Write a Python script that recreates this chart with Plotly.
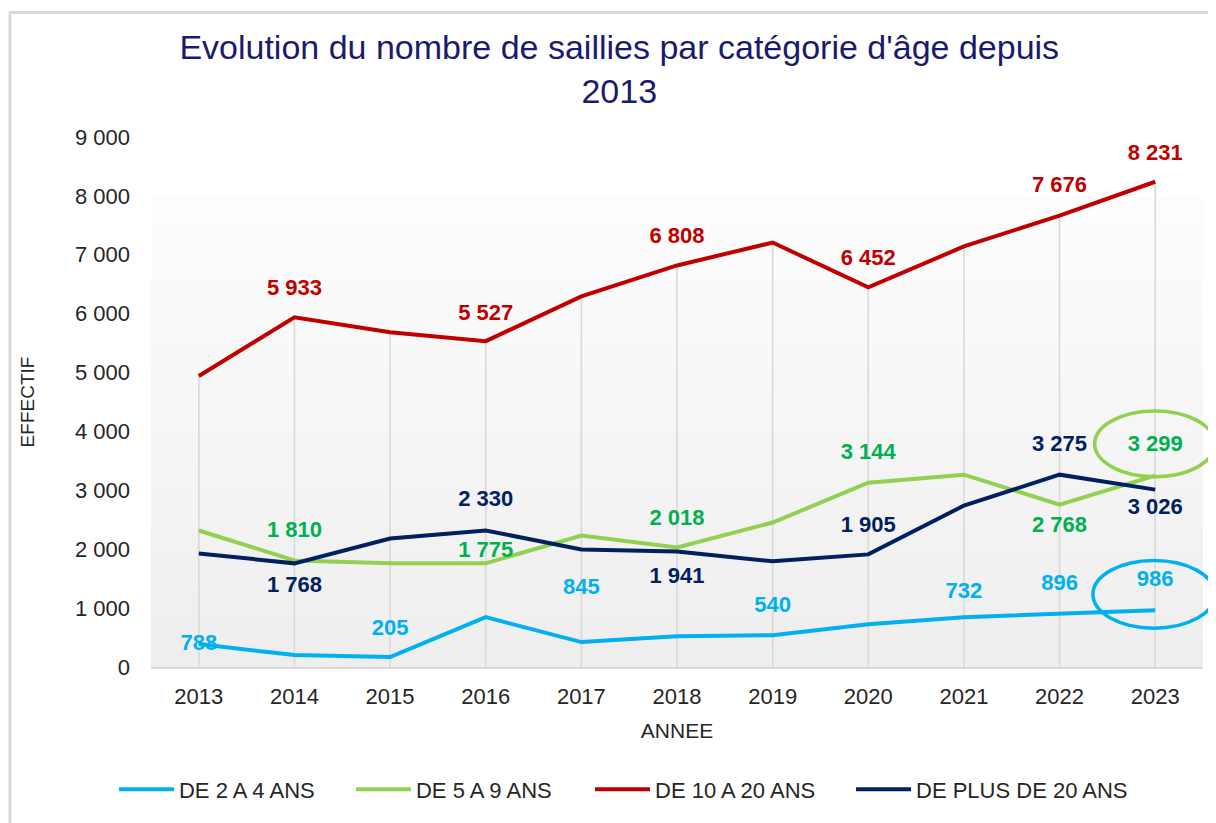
import plotly.graph_objects as go

# ---------------- data ----------------
years = [2013, 2014, 2015, 2016, 2017, 2018, 2019, 2020, 2021, 2022, 2023]

# line values
de_2_a_4 = [389, 203, 169, 846, 423, 524, 541, 727, 846, 897, 964]
de_5_a_9 = [2318, 1810, 1760, 1760, 2233, 2030, 2453, 3130, 3266, 2758, 3249]
de_10_a_20 = [4941, 5939, 5685, 5533, 6294, 6819, 7208, 6447, 7141, 7665, 8240]
de_plus_20 = [1929, 1760, 2183, 2318, 1997, 1960, 1794, 1912, 2741, 3266, 3012]

# data labels as printed on the chart (text, year, height)
lab_2_4_text = ["788", "205", "845", "540", "732", "896", "986"]
lab_2_4_x = [2013, 2015, 2017, 2019, 2021, 2022, 2023]
lab_2_4_y = [389, 643, 1337, 1032, 1269, 1404, 1472]

lab_5_9_text = ["1 810", "1 775", "2 018", "3 144", "2 768", "3 299"]
lab_5_9_x = [2014, 2016, 2018, 2020, 2022, 2023]
lab_5_9_y = [2301, 1963, 2504, 3621, 2386, 3756]

lab_10_20_text = ["5 933", "5 527", "6 808", "6 452", "7 676", "8 231"]
lab_10_20_x = [2014, 2016, 2018, 2020, 2022, 2023]
lab_10_20_y = [6413, 5990, 7293, 6920, 8156, 8697]

lab_p20_text = ["1 768", "2 330", "1 941", "1 905", "3 275", "3 026"]
lab_p20_x = [2014, 2016, 2018, 2020, 2022, 2023]
lab_p20_y = [1370, 2826, 1523, 2386, 3756, 2690]

series_names = ["DE 2 A 4 ANS", "DE 5 A 9 ANS", "DE 10 A 20 ANS", "DE PLUS DE 20 ANS"]
y_ticks = [0, 1000, 2000, 3000, 4000, 5000, 6000, 7000, 8000, 9000]

# ---------------- styles ----------------
FONT = "Liberation Sans, Arial, sans-serif"
line_colors = ["#00B0F0", "#92D050", "#C00000", "#002060"]
label_colors = ["#00B0F0", "#00B050", "#C00000", "#002060"]
legend_ids = ["legend", "legend2", "legend3", "legend4"]
legend_x = [-0.0352, 0.1901, 0.4173, 0.6654]

fig = go.Figure()

# drop lines from the highest series down to the axis
dx, dy = [], []
for x, v in zip(years, de_10_a_20):
    dx += [x, x, None]
    dy += [0, v, None]
fig.add_trace(go.Scatter(x=dx, y=dy, mode="lines", line=dict(color="#d9d9d9", width=1.6),
                         showlegend=False, hoverinfo="skip"))

all_series = [de_2_a_4, de_5_a_9, de_10_a_20, de_plus_20]
for name, vals, col, lg in zip(series_names, all_series, line_colors, legend_ids):
    fig.add_trace(go.Scatter(x=years, y=vals, mode="lines", name=name, legend=lg,
                             line=dict(color=col, width=4)))

labels = [
    (lab_2_4_text, lab_2_4_x, lab_2_4_y),
    (lab_5_9_text, lab_5_9_x, lab_5_9_y),
    (lab_10_20_text, lab_10_20_x, lab_10_20_y),
    (lab_p20_text, lab_p20_x, lab_p20_y),
]
for (txt, lx, ly), col in zip(labels, label_colors):
    fig.add_trace(go.Scatter(x=lx, y=ly, text=txt, mode="text", showlegend=False,
                             textposition="middle center", cliponaxis=False,
                             textfont=dict(family=FONT, size=22, color=col, weight="bold"),
                             hoverinfo="skip"))

# background gradient of the plot area
shapes = []
n_bands = 40
top = 0.885
c0, c1 = 0xEE, 0xFD
for i in range(n_bands):
    f = i / (n_bands - 1)
    c = int(round(c0 + (c1 - c0) * f))
    col = "#%02x%02x%02x" % (c, c, c)
    shapes.append(dict(type="rect", xref="x domain", yref="y domain",
                       x0=0, x1=1, y0=top * i / n_bands, y1=top * (i + 1) / n_bands + 0.002,
                       fillcolor=col, line=dict(width=0), layer="below"))
# highlight ellipses
shapes.append(dict(type="circle", xref="paper", yref="paper", x0=0.897, x1=1.0114,
                   y0=0.359, y1=0.483, line=dict(color="#92D050", width=3.5)))
shapes.append(dict(type="circle", xref="paper", yref="paper", x0=0.8954, x1=1.0114,
                   y0=0.0733, y1=0.201, line=dict(color="#00B0F0", width=3.5)))
# frame of the chart area (left and top edges)
shapes.append(dict(type="path", xref="paper", yref="paper",
                   path="M -0.134,-0.3 L -0.134,1.235 L 1.1,1.235",
                   line=dict(color="#d9d9d9", width=3)))

legend_common = dict(orientation="h", xanchor="left", y=-0.231, yanchor="middle",
                     itemwidth=55,
                     font=dict(family=FONT, size=22, color="#262626"),
                     bgcolor="rgba(0,0,0,0)")

fig.update_layout(
    width=1208, height=815,
    margin=dict(l=143, r=13, t=129, b=154),
    paper_bgcolor="white", plot_bgcolor="white",
    separators=", ",
    font=dict(family=FONT, size=22, color="#262626"),
    title=dict(text="Evolution du nombre de saillies par catégorie d'âge depuis<br>2013",
               x=0.506, xanchor="center", y=0.938, yanchor="top", yref="container",
               font=dict(family=FONT, size=34, color="#1b1b6e")),
    xaxis=dict(range=[2012.5, 2023.5], tickvals=years, ticktext=[str(y) for y in years],
               showgrid=False, zeroline=False, showline=True, linecolor="#d9d9d9", linewidth=2,
               ticks="", ticklabelstandoff=9, tickfont=dict(size=22, color="#262626"),
               title=dict(text="ANNEE", font=dict(size=21, color="#262626"), standoff=15)),
    yaxis=dict(range=[0, 9000], tickvals=y_ticks, tickformat=",d",
               showgrid=False, zeroline=False, showline=False, ticks="",
               ticklabelstandoff=20, tickfont=dict(size=22, color="#262626"),
               title=dict(text="EFFECTIF", font=dict(size=19, color="#262626"), standoff=35)),
    legend=dict(x=legend_x[0], **legend_common),
    legend2=dict(x=legend_x[1], **legend_common),
    legend3=dict(x=legend_x[2], **legend_common),
    legend4=dict(x=legend_x[3], **legend_common),
    shapes=shapes,
)

fig.write_html("out.html")
